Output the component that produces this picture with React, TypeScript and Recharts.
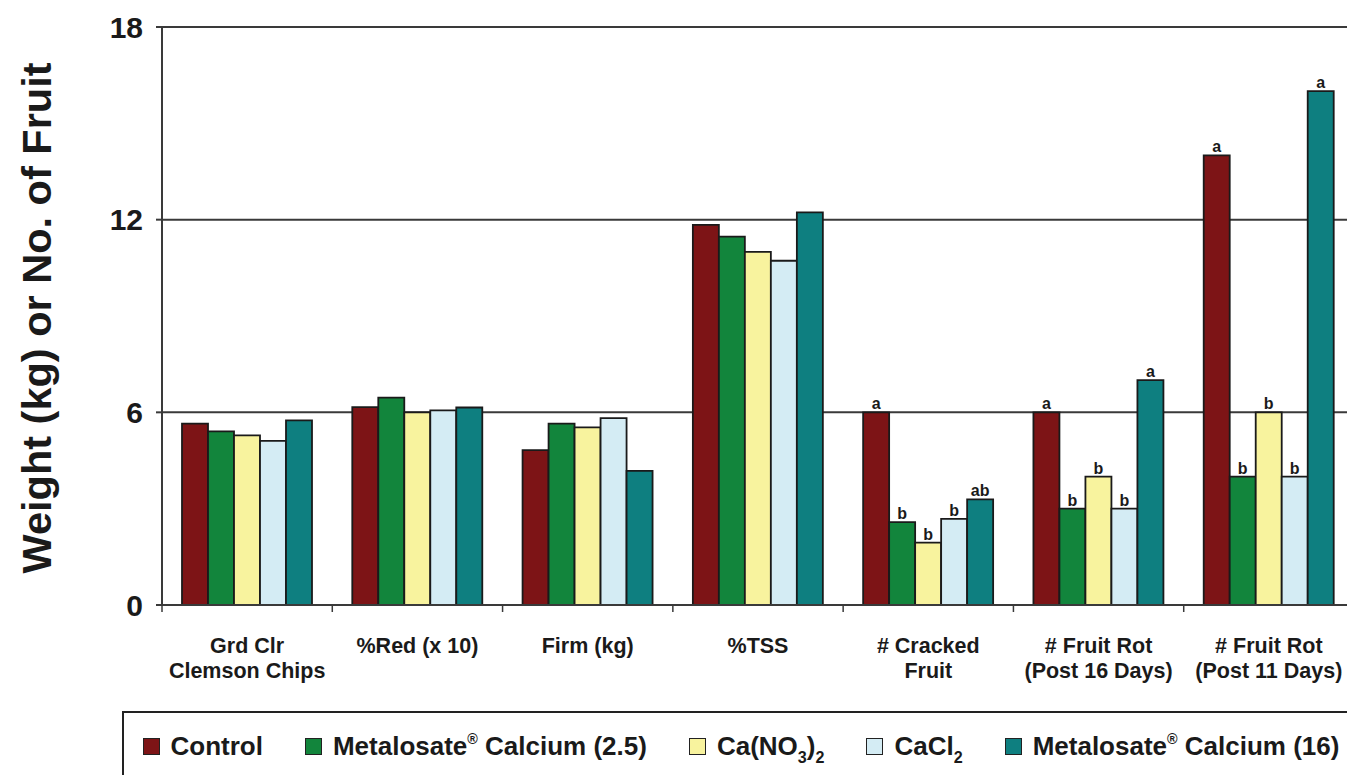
import React from 'react'
import { BarChart, Bar, XAxis, YAxis, CartesianGrid, LabelList, Label } from 'recharts'

const categories = [
  'Grd Clr\nClemson Chips',
  '%Red (x 10)',
  'Firm (kg)',
  '%TSS',
  '# Cracked\nFruit',
  '# Fruit Rot\n(Post 16 Days)',
  '# Fruit Rot\n(Post 11 Days)',
]

const control = [5.65, 6.16, 4.82, 11.84, 6, 6, 14]
const metalosate25 = [5.41, 6.46, 5.65, 11.47, 2.58, 3, 4]
const caNitrate = [5.28, 6.0, 5.53, 11.0, 1.94, 4, 6]
const caChloride = [5.11, 6.06, 5.82, 10.72, 2.68, 3, 4]
const metalosate16 = [5.75, 6.15, 4.18, 12.23, 3.29, 7, 16]

const controlSig = ['', '', '', '', 'a', 'a', 'a']
const metalosate25Sig = ['', '', '', '', 'b', 'b', 'b']
const caNitrateSig = ['', '', '', '', 'b', 'b', 'b']
const caChlorideSig = ['', '', '', '', 'b', 'b', 'b']
const metalosate16Sig = ['', '', '', '', 'ab', 'a', 'a']

const yTicks = [0, 6, 12, 18]

const FONT = '"Liberation Sans", Arial, Helvetica, sans-serif'
const INK = '#1a1a1a'
const GRID = '#3a3a3a'

const series = [
  { key: 'control', values: control, sig: controlSig, color: '#7d1416' },
  { key: 'met25', values: metalosate25, sig: metalosate25Sig, color: '#12853c' },
  { key: 'cano3', values: caNitrate, sig: caNitrateSig, color: '#f8f39e' },
  { key: 'cacl2', values: caChloride, sig: caChlorideSig, color: '#d4ecf4' },
  { key: 'met16', values: metalosate16, sig: metalosate16Sig, color: '#0e7f80' },
]

const data = categories.map((cat, i) => {
  const row: Record<string, string | number> = { cat }
  series.forEach((s) => {
    row[s.key] = s.values[i]
    row[s.key + 'Sig'] = s.sig[i]
  })
  return row
})

// layout
const W = 1370
const H = 775
const PLOT_LEFT = 162
const PLOT_RIGHT = 1354
const PLOT_BOTTOM = 605
const BAND = (PLOT_RIGHT - PLOT_LEFT) / categories.length

function XTick(props: any) {
  const { x, payload, index } = props
  const lines = String(payload.value).split('\n')
  const left = x - BAND / 2
  return (
    <g>
      <line x1={left} x2={left} y1={PLOT_BOTTOM} y2={PLOT_BOTTOM + 7} stroke={GRID} strokeWidth={1.5} />
      {index === categories.length - 1 && (
        <line x1={x + BAND / 2} x2={x + BAND / 2} y1={PLOT_BOTTOM} y2={PLOT_BOTTOM + 7} stroke={GRID} strokeWidth={1.5} />
      )}
      <text textAnchor="middle" fontFamily={FONT} fontWeight="bold" fontSize={21.5} fill={INK}>
        {lines.map((l, i) => (
          <tspan key={i} x={x} y={653 + i * 25}>
            {l}
          </tspan>
        ))}
      </text>
    </g>
  )
}

function YTitle() {
  return (
    <text
      x={51}
      y={318}
      transform="rotate(-90 51 318)"
      textAnchor="middle"
      fontFamily={FONT}
      fontWeight="bold"
      fontSize={41.5}
      fill={INK}
    >
      Weight (kg) or No. of Fruit
    </text>
  )
}

function Swatch({ color }: { color: string }) {
  return (
    <span
      style={{
        display: 'inline-block',
        width: 17,
        height: 17,
        boxSizing: 'border-box',
        border: '1.5px solid #222',
        background: color,
        marginRight: 11,
      }}
    />
  )
}

const sub = { fontSize: '62%', verticalAlign: '-0.5em', lineHeight: 0 }
const sup = { fontSize: '55%', verticalAlign: '0.75em', lineHeight: 0 }

const legendLabels: React.ReactNode[] = [
  'Control',
  <>Metalosate<span style={sup}>®</span> Calcium (2.5)</>,
  <>Ca(NO<span style={sub}>3</span>)<span style={sub}>2</span></>,
  <>CaCl<span style={sub}>2</span></>,
  <>Metalosate<span style={sup}>®</span> Calcium (16)</>,
]

export default function App() {
  return (
    <div
      style={{
        position: 'absolute',
        left: 0,
        top: 0,
        width: 1347,
        height: 775,
        overflow: 'hidden',
        background: '#fff',
        fontFamily: FONT,
      }}
    >
      <BarChart
        width={W}
        height={H}
        data={data}
        margin={{ top: 27, right: W - PLOT_RIGHT, bottom: H - PLOT_BOTTOM - 60, left: 0 }}
        barCategoryGap={20}
        barGap={0}
      >
        <CartesianGrid vertical={false} stroke={GRID} strokeWidth={2} strokeDasharray="" />
        <XAxis
          dataKey="cat"
          height={60}
          axisLine={{ stroke: GRID, strokeWidth: 2 }}
          tickLine={false}
          interval={0}
          tick={<XTick />}
        />
        <YAxis
          width={PLOT_LEFT}
          domain={[0, 18]}
          ticks={yTicks}
          interval={0}
          axisLine={{ stroke: GRID, strokeWidth: 2 }}
          tickLine={{ stroke: GRID, strokeWidth: 2 }}
          tickSize={6}
          tickMargin={13}
          tick={{ fontFamily: FONT, fontWeight: 'bold', fontSize: 30, fill: INK }}
        >
          <Label content={<YTitle />} />
        </YAxis>
        {series.map((s) => (
          <Bar
            key={s.key}
            dataKey={s.key}
            fill={s.color}
            stroke={INK}
            strokeWidth={1.8}
            isAnimationActive={false}
          >
            <LabelList
              dataKey={s.key + 'Sig'}
              position="top"
              offset={3}
              fontFamily={FONT}
              fontWeight="bold"
              fontSize={16}
              fill={INK}
            />
          </Bar>
        ))}
      </BarChart>
      <div
        style={{
          position: 'absolute',
          left: 122,
          top: 711,
          width: 1300,
          height: 120,
          boxSizing: 'border-box',
          border: '2.5px solid #222',
          paddingLeft: 18.5,
          paddingTop: 18,
        }}
      >
        <div style={{ display: 'flex', alignItems: 'center', height: 30 }}>
          {series.map((s, i) => (
            <div
              key={s.key}
              style={{
                display: 'flex',
                alignItems: 'center',
                marginRight: 42,
                fontSize: 26,
                fontWeight: 'bold',
                color: INK,
                whiteSpace: 'nowrap',
              }}
            >
              <Swatch color={s.color} />
              <span>{legendLabels[i]}</span>
            </div>
          ))}
        </div>
      </div>
    </div>
  )
}
